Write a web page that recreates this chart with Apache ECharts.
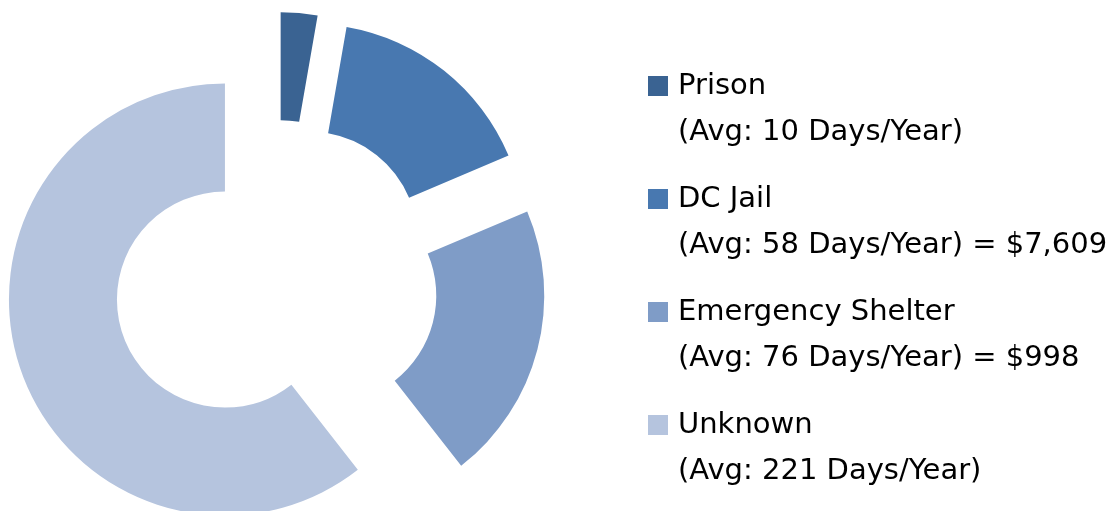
<!DOCTYPE html>
<html><head><meta charset="utf-8">
<script src="https://cdn.jsdelivr.net/npm/echarts@6/dist/echarts.min.js"></script>
<style>html,body{margin:0;padding:0;background:#fff}#c{width:1114px;height:511px}</style>
</head><body><div id="c"></div>
<script>
const categories = ['Prison', 'DC Jail', 'Emergency Shelter', 'Unknown'];
const avgDays = [10, 58, 76, 221];
const costLabels = ['', '$7,609', '$998', ''];
const colors = ['#3A6392', '#4878B0', '#7F9CC7', '#B5C4DE'];

const chart = echarts.init(document.getElementById('c'), null, { renderer: 'canvas' });
const data = categories.map((name, i) => ({ name, value: avgDays[i], selected: true, itemStyle: { color: colors[i] } }));
const lineH = 46;
chart.setOption({
  animation: false,
  legend: {
    orient: 'vertical', left: 648, top: 63, padding: 0,
    itemWidth: 20, itemHeight: 20 + lineH, itemGap: 21,
    icon: 'path://M0,0L20,0L20,20L0,20Z M0,65.95L0.05,66L0,66Z',
    textStyle: { fontFamily: 'DejaVu Sans', fontSize: 29, color: '#000', lineHeight: lineH, padding: [0, 0, 0, 5] },
    formatter: name => {
      const i = categories.indexOf(name);
      return name + '\n(Avg: ' + avgDays[i] + ' Days/Year)' + (costLabels[i] ? ' = ' + costLabels[i] : '');
    },
    selectedMode: false
  },
  series: [{
    type: 'pie', center: [276, 282], radius: [108, 216], startAngle: 90, clockwise: true,
    selectedMode: 'multiple', selectedOffset: 54,
    label: { show: false }, labelLine: { show: false },
    itemStyle: { borderWidth: 0 }, emphasis: { disabled: true },
    data
  }]
});
</script></body></html>
